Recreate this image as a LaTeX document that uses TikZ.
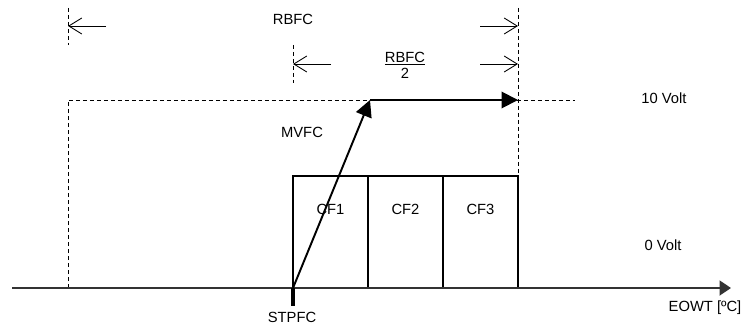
\documentclass[tikz,border=0pt]{standalone}
\usepackage{fontspec}
\setmainfont{Liberation Sans}
\usetikzlibrary{arrows.meta,positioning}

\begin{document}
\begin{tikzpicture}[
  x=0.02cm, y=-0.02cm,
  font=\fontsize{8.4}{10}\selectfont,
  guide/.style={dash pattern=on 0.08cm off 0.06cm, line width=0.5pt},
  dim/.style={-{Straight Barb[length=2.6mm, width=3.2mm]}, line width=0.5pt},
  ramp/.style={-{Triangle[length=3.3mm, width=3.3mm]}, line width=1.1pt},
  axis/.style={-{Triangle[length=2.3mm, width=3mm]}, line width=1.1pt, draw=black!80},
  cell/.style={draw, line width=1.1pt, outer sep=0pt, inner sep=0pt, minimum width=1.5cm, minimum height=2.24cm}
]
\useasboundingbox (0,0) rectangle (750,331);

% reference points
\coordinate (stp) at (293,288);
\coordinate (stpdn) at (293,306);
\coordinate (peak) at (370,100);
\coordinate (full) at (518,100);
\coordinate (ax0) at (12,288);
\coordinate (ax1) at (731,288);

% dashed guides
\coordinate (gla) at (68,8);
\coordinate (glb) at (68,45);
\coordinate (glc) at (68,100);
\coordinate (gld) at (68,288);
\coordinate (gmid) at (293,45);
\coordinate (gmidb) at (293,83);
\coordinate (gra) at (518,8);
\coordinate (grb) at (518,176);
\coordinate (gend) at (575,100);
\draw[guide] (gla) -- (glb);
\draw[guide] (gld) -- (glc) -- (gend);
\draw[guide] (gmid) -- (gmidb);
\draw[guide] (gra) -- (grb);

% dimension arrows
\coordinate (d1l) at (68,26);
\coordinate (d1a) at (106,26);
\coordinate (d1b) at (480,26);
\coordinate (d1r) at (518,26);
\coordinate (d2l) at (293,64);
\coordinate (d2a) at (331,64);
\coordinate (d2b) at (480,64);
\coordinate (d2r) at (518,64);
\draw[dim] (d1a) -- (d1l);
\draw[dim] (d1b) -- (d1r);
\draw[dim] (d2a) -- (d2l);
\draw[dim] (d2b) -- (d2r);
\node (rbfc) at (293,19) {RBFC};
\node[align=center, inner sep=0pt] (half) at (405,65) {\underline{RBFC}\\[-1pt]2};

% stages
\node[cell, anchor=south west] (cf1) at (stp) {};
\node[cell, right=0pt of cf1] (cf2) {};
\node[cell, right=0pt of cf2] (cf3) {};
\node (cf1txt) at (330.5,209) {CF1};
\node (cf2txt) at (405.5,209) {CF2};
\node (cf3txt) at (480.5,209) {CF3};

% axis and ramp
\draw[axis] (ax0) -- (ax1);
\draw[line width=1.8pt] (stp) -- (stpdn);
\draw[ramp] (stp) -- (peak);
\draw[ramp] (peak) -- (full);

% labels
\node (mvfc) at (302,132) {MVFC};
\node (tenv) at (664,98) {10 Volt};
\node (zerov) at (663,245) {0 Volt};
\node (eowt) at (705,308) {EOWT [ºC]};
\node (stpfc) at (292,317) {STPFC};
\end{tikzpicture}
\end{document}
